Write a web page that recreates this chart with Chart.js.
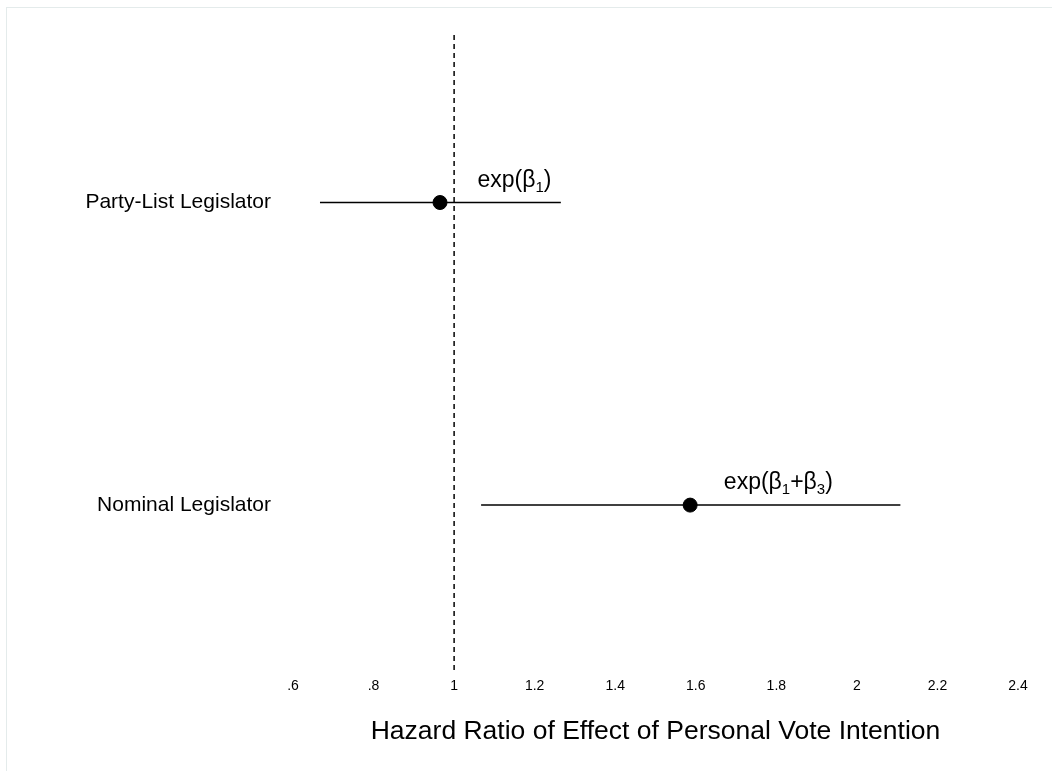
<!DOCTYPE html>
<html lang="en">
<head>
<meta charset="UTF-8">
<title>Hazard Ratio</title>
<style>
  body { margin: 0; background: #fff; }
  #wrap { position: relative; width: 1052px; height: 771px; }
  #frame { position: absolute; left: 6px; top: 7px; right: 0; bottom: 0;
           border-left: 1px solid #e4ebeb; border-top: 1px solid #e4ebeb; }
  canvas { position: absolute; left: 0; top: 0; }
</style>
</head>
<body>
<div id="wrap">
  <div id="frame"></div>
  <canvas id="myChart" width="1052" height="771"></canvas>
</div>

<script src="https://cdn.jsdelivr.net/npm/chart.js"></script>
<script>
// data
const categories = ['Party-List Legislator', 'Nominal Legislator'];
const rowY = [2, 1];
const estimates = [0.965, 1.586];
const lower = [0.667, 1.067];
const upper = [1.265, 2.108];
const xTicks = [0.6, 0.8, 1, 1.2, 1.4, 1.6, 1.8, 2, 2.2, 2.4];
// label parts: [text, isSubscript]
const labels = [
  [['exp(β', false], ['1', true], [')', false]],
  [['exp(β', false], ['1', true], ['+β', false], ['3', true], [')', false]]
];
const labelX = [1.15, 1.805];

const FONT = '"Liberation Sans", Arial, Helvetica, sans-serif';
const yMin = 0.455, yMax = 2.555;

const datasets = [];
for (let i = 0; i < categories.length; i++) {
  datasets.push({
    type: 'line',
    data: [{x: lower[i], y: rowY[i]}, {x: upper[i], y: rowY[i]}],
    borderColor: '#000',
    borderWidth: 1.5,
    pointRadius: 0
  });
}
datasets.push({
  type: 'scatter',
  data: estimates.map((v, i) => ({x: v, y: rowY[i]})),
  backgroundColor: '#000',
  borderColor: '#000',
  pointRadius: 7
});
datasets.push({
  type: 'line',
  data: [{x: 1, y: yMin}, {x: 1, y: yMax}],
  borderColor: '#000',
  borderWidth: 1.5,
  borderDash: [5, 4],
  pointRadius: 0
});

// draws exp(β..) text with subscripts
const labelPlugin = {
  id: 'betaLabels',
  afterDatasetsDraw(chart) {
    const ctx = chart.ctx;
    const big = '23px ' + FONT, small = '15px ' + FONT;
    ctx.save();
    ctx.fillStyle = '#000';
    ctx.textBaseline = 'alphabetic';
    labels.forEach((parts, i) => {
      let w = 0;
      parts.forEach(p => { ctx.font = p[1] ? small : big; w += ctx.measureText(p[0]).width; });
      let x = chart.scales.x.getPixelForValue(labelX[i]) - w / 2;
      const base = chart.scales.y.getPixelForValue(rowY[i]) - 16;
      parts.forEach(p => {
        ctx.font = p[1] ? small : big;
        ctx.fillText(p[0], x, p[1] ? base + 5 : base);
        x += ctx.measureText(p[0]).width;
      });
    });
    ctx.restore();
  }
};

new Chart(document.getElementById('myChart'), {
  data: { datasets: datasets },
  plugins: [labelPlugin],
  options: {
    responsive: false,
    animation: false,
    layout: { padding: { top: 34, right: 34, bottom: 0, left: 0 } },
    plugins: { legend: { display: false }, tooltip: { enabled: false } },
    scales: {
      x: {
        type: 'linear',
        min: 0.6,
        max: 2.4,
        grid: { display: false, drawTicks: false },
        border: { display: false },
        afterBuildTicks: s => { s.ticks = xTicks.map(v => ({value: v})); },
        afterFit: s => { s.height = 101; },
        ticks: {
          padding: 8,
          color: '#000',
          font: { family: FONT, size: 14 },
          maxRotation: 0,
          callback: v => String(Math.round(v * 10) / 10).replace(/^0\./, '.')
        },
        title: {
          display: true,
          text: 'Hazard Ratio of Effect of Personal Vote Intention',
          color: '#000',
          font: { family: FONT, size: 26.5 },
          padding: { top: 4, bottom: 23 }
        }
      },
      y: {
        type: 'linear',
        min: yMin,
        max: yMax,
        grid: { display: false, drawTicks: false },
        border: { display: false },
        afterBuildTicks: s => { s.ticks = rowY.map(v => ({value: v})); },
        afterFit: s => { s.width = 293; },
        ticks: {
          padding: 22,
          color: '#000',
          font: { family: FONT, size: 21 },
          callback: v => categories[rowY.indexOf(v)]
        }
      }
    }
  }
});
</script>
</body>
</html>
